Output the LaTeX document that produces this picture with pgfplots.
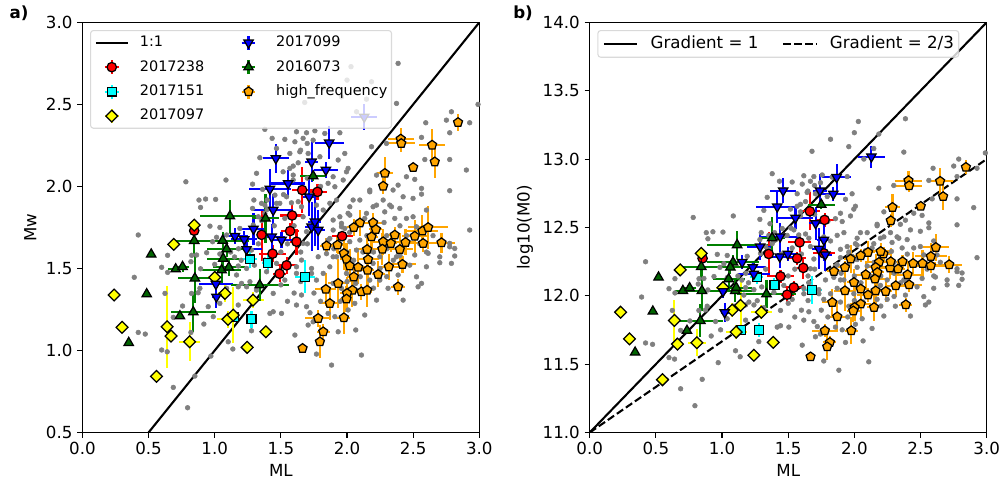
\documentclass[border=0pt]{standalone}
\usepackage{fontspec}
\setmainfont{DejaVu Sans}
\usepackage{pgfplots}
\pgfplotsset{compat=1.18}
\usepackage{pgfplotstable}

\definecolor{gr}{HTML}{808080}
\definecolor{dkgreen}{HTML}{006400}
\definecolor{egreen}{HTML}{008000}
\definecolor{orng}{HTML}{FFA500}
\definecolor{cRed}{HTML}{FF0000}
\definecolor{cCyan}{HTML}{00FFFF}
\definecolor{cYellow}{HTML}{FFFF00}
\definecolor{cBlue}{HTML}{0000FF}

\newcommand\tickfont{\fontsize{12pt}{14.4pt}\selectfont}
\newcommand\legfont{\fontsize{10.4pt}{12.5pt}\selectfont}
\newcommand\legbfont{\fontsize{12pt}{14.4pt}\selectfont}

% ---------------- catalogue events (ML, Mw) ----------------
\pgfplotstableread{
ml mw
1.379 2.348
1.434 2.293
1.341 2.175
2.386 2.750
2.374 2.506
2.990 2.500
2.030 2.730
2.000 2.648
2.185 2.638
1.820 2.600
1.958 2.546
2.147 2.532
1.680 2.512
2.072 2.455
2.789 2.455
2.751 2.404
2.595 2.388
2.927 2.388
2.776 2.327
1.618 2.333
1.694 2.327
1.757 2.339
1.832 2.323
1.668 2.293
1.946 2.327
1.606 2.272
1.744 2.282
1.530 2.287
2.563 2.299
2.298 2.262
2.185 2.242
1.649 2.221
1.706 2.201
1.568 2.201
1.467 2.232
1.983 2.201
1.933 2.161
1.795 2.181
2.776 2.164
2.588 2.164
2.902 2.100
1.631 2.144
1.568 2.110
2.008 2.110
1.996 2.089
1.517 2.089
1.593 2.069
1.895 2.059
1.971 2.039
2.449 2.059
2.386 2.008
2.512 2.043
2.223 2.069
2.172 1.978
2.563 1.988
2.776 1.974
2.424 1.937
2.499 1.927
1.908 1.998
1.857 2.019
2.097 1.917
2.273 1.917
2.021 1.876
2.197 1.876
2.336 1.876
1.921 1.917
2.927 1.734
2.600 1.856
2.021 1.825
2.285 1.845
2.361 1.805
2.449 1.805
2.134 1.805
2.084 1.785
1.946 1.815
1.870 1.897
1.820 1.856
1.983 1.744
2.525 1.754
2.625 1.754
2.776 1.653
2.814 1.622
2.701 1.571
2.789 1.531
2.512 1.582
1.857 1.673
1.782 1.571
1.895 1.571
1.870 1.510
2.701 1.535
1.455 1.947
1.467 1.897
1.593 2.039
1.631 1.907
1.656 1.876
1.769 1.886
1.668 1.815
1.530 1.805
1.694 1.724
1.895 1.795
1.895 1.734
1.958 1.754
1.668 1.653
1.845 1.590
1.618 1.510
1.732 1.470
2.814 1.576
2.776 1.632
2.563 1.409
2.537 1.388
2.424 1.307
2.310 1.379
2.525 1.449
2.600 1.510
2.613 1.592
2.474 1.520
2.386 1.460
2.248 1.429
2.172 1.429
2.066 1.409
1.958 1.379
1.895 1.409
1.769 1.429
1.820 1.470
1.921 1.571
1.732 1.500
1.656 1.551
1.618 1.470
1.530 1.429
1.656 1.338
1.618 1.277
1.694 1.267
1.744 1.175
1.706 1.155
1.857 1.226
1.908 1.206
1.933 1.114
2.066 1.125
2.134 1.216
2.223 1.307
2.008 1.247
2.059 1.287
1.606 1.094
1.505 1.226
1.442 1.236
2.109 0.972
1.769 0.978
1.883 0.911
2.172 1.967
2.348 1.978
2.563 1.953
2.046 1.917
2.008 1.836
2.223 1.886
2.323 1.886
2.399 1.866
2.499 1.815
2.147 1.836
1.958 1.775
1.870 1.683
2.021 1.663
2.097 1.673
2.072 1.612
2.248 1.571
2.197 1.531
2.374 1.571
1.996 1.470
1.316 2.080
1.286 2.014
1.362 1.982
1.085 2.039
0.782 2.028
0.881 1.917
0.931 1.923
1.007 1.921
0.893 1.872
0.422 1.704
0.644 1.580
0.826 1.580
0.863 1.582
0.939 1.596
0.599 1.507
0.644 1.476
0.820 1.541
0.893 1.498
0.392 1.446
0.964 1.758
1.039 1.750
0.984 1.663
1.014 1.690
0.624 1.348
1.178 1.515
1.241 1.500
1.165 1.460
1.203 1.409
1.178 1.388
1.266 1.419
1.241 1.388
1.392 1.480
1.467 1.531
1.354 1.897
1.379 1.836
1.190 1.744
1.291 1.765
1.354 1.791
1.090 1.704
1.000 1.525
1.039 1.588
1.278 1.612
1.379 1.551
1.442 1.348
1.316 1.368
1.090 1.379
0.888 1.379
0.825 1.348
0.757 1.271
0.951 1.267
0.875 1.352
1.039 1.287
0.989 1.206
0.918 1.161
0.820 1.110
0.687 1.202
0.422 1.110
0.475 1.100
0.599 1.003
0.641 0.992
1.102 1.053
1.137 1.009
0.971 0.966
0.850 0.844
0.687 0.775
0.795 0.651
1.278 1.120
1.417 1.226
1.178 1.277
1.500 1.600
1.550 1.650
1.600 1.760
1.650 1.600
1.700 1.650
1.450 1.760
2.300 1.700
2.400 1.760
2.200 1.600
2.000 1.600
2.350 1.550
1.520 1.950
1.580 1.900
1.700 2.050
1.800 2.000
1.643 2.211
1.699 2.262
1.593 2.124
1.397 1.917
1.379 1.886
1.397 1.860
1.492 1.897
1.543 1.937
1.286 1.866
1.329 1.815
1.296 1.917
2.050 1.550
2.120 1.600
2.250 1.500
2.300 1.620
2.450 1.700
2.550 1.650
2.200 1.750
2.150 1.700
2.020 1.720
1.950 1.680
1.900 1.620
2.280 1.780
2.400 1.580
2.600 1.600
2.650 1.700
2.100 1.450
2.200 1.380
2.000 1.420
1.950 1.300
2.300 1.450
1.550 1.300
1.600 1.350
1.750 1.350
1.800 1.300
1.650 1.420
1.720 1.230
1.500 1.400
1.120 1.600
1.180 1.620
1.200 1.550
1.300 1.520
1.330 1.650
1.150 1.570
}\greyev

% ---------------- panel a: (ML, Mw) with errors ----------------
\pgfplotstableread{
ml mw ex ey
0.845 1.730 0    0
1.354 1.705 0.03 0.16
1.437 1.590 0.10 0.05
1.490 1.468 0.05 0.05
1.543 1.519 0.08 0.05
1.570 1.728 0.07 0.05
1.585 1.823 0.09 0.07
1.618 1.663 0.05 0.08
1.661 1.978 0.08 0.14
1.777 1.967 0.07 0.05
1.963 1.697 0.08 0.03
}\redA
\pgfplotstableread{
ml mw ex ey
1.146 1.205 0.03 0.03
1.266 1.555 0.05 0.05
1.400 1.535 0.04 0.05
1.278 1.190 0.03 0.05
1.681 1.449 0.075 0.10
}\cyanA
\pgfplotstableread{
ml mw ex ey
0.240 1.338 0    0
0.300 1.141 0    0
0.560 0.842 0    0
0.640 1.145 0    0.25
0.670 1.088 0    0
0.810 1.053 0.08 0.12
1.077 1.348 0.05 0.05
1.100 1.190 0.08 0.05
1.140 1.216 0    0.17
1.290 1.307 0.08 0.05
1.245 1.019 0    0
1.387 1.114 0    0
0.845 1.764 0    0
0.690 1.647 0    0
1.000 1.446 0.05 0.05
}\yellowA
\pgfplotstableread{
ml mw ex ey
1.009 1.405 0.13 0.05
1.013 1.327 0.03 0.07
1.153 1.697 0.10 0.05
1.223 1.677 0.10 0.05
1.240 1.616 0.12 0.05
1.293 1.741 0.10 0.10
1.417 1.984 0.16 0.12
1.430 1.693 0.10 0.08
1.442 1.856 0.15 0.10
1.462 2.171 0.10 0.09
1.505 1.673 0.08 0.05
1.555 2.018 0.13 0.08
1.714 1.937 0.05 0.12
1.732 2.150 0.05 0.12
1.732 1.754 0.05 0.15
1.757 1.785 0.05 0.15
1.782 1.734 0.05 0.12
1.840 2.100 0.09 0.05
1.865 2.266 0.11 0.10
2.130 2.424 0.10 0.08
}\blueA
\pgfplotstableread{
ml mw ex ey
0.350 1.047 0    0
0.486 1.344 0    0
0.520 1.586 0    0
0.737 1.210 0    0
0.705 1.496 0.06 0
0.757 1.510 0.05 0.03
0.845 1.669 0.15 0.08
0.838 1.234 0.17 0.12
0.850 1.440 0.13 0.15
1.060 1.670 0.20 0.05
1.090 1.618 0.15 0.05
1.064 1.560 0.12 0.08
1.052 1.490 0.15 0.08
1.107 1.507 0.12 0.05
1.115 1.819 0.23 0.10
1.340 1.399 0.22 0.10
1.384 1.805 0.10 0.15
1.744 2.063 0.10 0.03
}\greenA
\pgfplotstableread{
ml mw ex ey
2.839 2.390 0    0.05
2.406 2.289 0.10 0.07
2.410 2.262 0.10 0.05
2.643 2.252 0.10 0.10
2.663 2.150 0.03 0.10
2.500 2.116 0    0
2.286 2.080 0.06 0.10
2.273 2.002 0.03 0.05
2.097 1.778 0.05 0.08
2.051 1.750 0.05 0.05
2.197 1.779 0.08 0.06
2.218 1.738 0.05 0.05
2.185 1.693 0.05 0.10
2.273 1.663 0.08 0.08
2.331 1.653 0.05 0.05
2.361 1.704 0.05 0.05
2.442 1.659 0.08 0.08
2.512 1.697 0.10 0.10
2.570 1.728 0.12 0.10
2.613 1.750 0.15 0.13
2.575 1.653 0.15 0.05
2.714 1.657 0.10 0.06
1.845 1.638 0.05 0.05
1.928 1.643 0.05 0.05
2.152 1.616 0.10 0.10
2.267 1.618 0.10 0.10
2.399 1.616 0.10 0.10
1.976 1.592 0.05 0.10
1.996 1.557 0.05 0.10
2.159 1.555 0.08 0.10
2.021 1.516 0.05 0.10
2.084 1.507 0.10 0.10
2.155 1.490 0.05 0.10
2.316 1.510 0.08 0.08
2.419 1.525 0.10 0.05
2.235 1.464 0.05 0.08
2.051 1.449 0.05 0.05
1.933 1.409 0.08 0.15
1.840 1.373 0.08 0.10
2.041 1.368 0.08 0.10
2.000 1.348 0.05 0.10
2.109 1.358 0.08 0.05
2.152 1.368 0.05 0.10
1.996 1.314 0.05 0.08
1.870 1.287 0.08 0.10
2.386 1.388 0.05 0.05
1.782 1.196 0.10 0.05
1.976 1.200 0.05 0.10
1.820 1.114 0.05 0.05
1.795 1.053 0.03 0.10
1.664 1.013 0    0
}\orangeA

% ---------------- panel b: (ML, log10 M0) with errors ----------------
\pgfplotstableread{
ml lm ex ey
0.853 12.274 0    0
1.353 12.306 0.03 0.16
1.442 12.142 0.10 0.05
1.492 12.008 0.05 0.05
1.542 12.061 0.08 0.05
1.568 12.274 0.07 0.05
1.586 12.391 0.09 0.07
1.614 12.204 0.05 0.08
1.664 12.618 0.08 0.14
1.775 12.555 0.07 0.05
1.770 12.310 0.08 0.03
}\redB
\pgfplotstableread{
ml lm ex ey
1.146 11.750 0.03 0.03
1.262 12.135 0.05 0.05
1.396 12.081 0.04 0.05
1.277 11.750 0.03 0.05
1.682 12.042 0.075 0.10
}\cyanB
\pgfplotstableread{
ml lm ex ey
0.233 11.880 0    0
0.300 11.685 0    0
0.550 11.386 0    0
0.640 11.820 0    0.15
0.663 11.647 0    0
0.810 11.657 0.07 0.10
1.077 11.895 0.05 0.05
1.107 11.735 0.08 0.05
1.140 11.930 0    0.19
1.297 11.880 0.08 0.05
1.240 11.565 0    0
1.387 11.660 0    0
0.843 12.310 0    0
0.684 12.189 0    0
1.007 12.060 0.05 0.05
}\yellowB
\pgfplotstableread{
ml lm ex ey
1.007 12.032 0.13 0.05
1.020 11.878 0.03 0.07
1.152 12.245 0.10 0.05
1.232 12.208 0.10 0.05
1.240 12.160 0.12 0.05
1.288 12.359 0.10 0.10
1.417 12.652 0.16 0.12
1.436 12.286 0.10 0.08
1.439 12.433 0.15 0.10
1.462 12.769 0.10 0.09
1.497 12.306 0.08 0.05
1.555 12.570 0.13 0.08
1.707 12.530 0.05 0.12
1.740 12.769 0.05 0.12
1.732 12.343 0.05 0.15
1.770 12.408 0.05 0.15
1.780 12.300 0.05 0.12
1.841 12.745 0.09 0.05
1.866 12.867 0.11 0.10
2.129 13.018 0.10 0.08
}\blueB
\pgfplotstableread{
ml lm ex ey
0.343 11.586 0    0
0.477 11.886 0    0
0.520 12.135 0    0
0.735 11.745 0    0
0.704 12.037 0.06 0
0.755 12.057 0.05 0.03
0.843 12.213 0.15 0.08
0.836 11.818 0.17 0.12
0.848 12.037 0.13 0.15
1.083 12.245 0.20 0.05
1.063 12.208 0.15 0.05
1.050 12.123 0.12 0.08
1.100 12.037 0.15 0.08
1.107 12.060 0.12 0.05
1.114 12.372 0.23 0.10
1.336 12.013 0.22 0.10
1.379 12.423 0.10 0.15
1.750 12.667 0.10 0.03
}\greenB
\pgfplotstableread{
ml lm ex ey
2.843 12.940 0    0.05
2.409 12.843 0.10 0.07
2.414 12.806 0.10 0.05
2.648 12.838 0.10 0.10
2.671 12.726 0.03 0.10
2.502 12.655 0    0
2.288 12.647 0.06 0.10
2.275 12.550 0.03 0.05
2.616 12.354 0.10 0.10
2.578 12.288 0.12 0.10
2.717 12.228 0.10 0.06
2.578 12.220 0.15 0.05
2.515 12.237 0.10 0.10
2.444 12.237 0.08 0.08
2.364 12.250 0.05 0.05
2.402 12.155 0.10 0.10
2.330 12.196 0.05 0.05
2.270 12.203 0.08 0.08
2.275 12.250 0.05 0.10
2.220 12.306 0.05 0.05
2.199 12.325 0.08 0.06
2.103 12.318 0.05 0.08
2.048 12.294 0.05 0.05
1.972 12.269 0.05 0.10
1.929 12.208 0.05 0.05
1.846 12.179 0.05 0.05
2.186 12.245 0.10 0.10
2.161 12.208 0.08 0.10
2.174 12.171 0.05 0.10
2.156 12.123 0.10 0.10
2.086 12.155 0.10 0.10
2.414 12.081 0.10 0.05
2.313 12.074 0.08 0.08
2.237 12.032 0.05 0.08
2.161 12.037 0.05 0.10
2.103 12.006 0.08 0.05
2.048 12.050 0.05 0.05
1.997 12.098 0.05 0.10
1.929 12.037 0.08 0.15
2.389 11.935 0.05 0.05
2.149 11.915 0.05 0.10
2.048 11.940 0.08 0.10
2.002 11.915 0.05 0.10
1.992 11.890 0.05 0.08
1.833 11.952 0.08 0.10
1.871 11.847 0.08 0.10
1.977 11.745 0.05 0.10
1.777 11.745 0.10 0.05
1.815 11.659 0.05 0.05
1.795 11.627 0.03 0.10
1.669 11.554 0    0
}\orangeB

\pgfplotsset{
  panel/.style={
    scale only axis, width=285.8pt, height=295.3pt,
    xmin=0, xmax=3, xtick={0,0.5,1,1.5,2,2.5,3},
    tick align=outside, tick pos=left, major tick length=3.6pt,
    tick style={black, line width=0.8pt},
    axis line style={black, line width=0.8pt},
    /pgf/number format/assume math mode=true,
    xticklabel style={font=\tickfont, /pgf/number format/fixed, /pgf/number format/fixed zerofill, /pgf/number format/precision=1},
    yticklabel style={font=\tickfont, /pgf/number format/fixed, /pgf/number format/fixed zerofill, /pgf/number format/precision=1},
    label style={font=\tickfont},
    xlabel={ML},
    legend cell align=left,
  },
  legA/.style={legend columns=2,
    legend style={at={(axis description cs:0,1)}, anchor=north west, xshift=5.5pt, yshift=-5.5pt,
      draw=black!18, line width=0.8pt, rounded corners=2pt, fill=white, fill opacity=0.8,
      draw opacity=0.8, text opacity=1, font=\legfont, inner xsep=3pt, inner ysep=3pt,
      nodes={inner sep=0pt, text height=7.6pt, text depth=2pt}, row sep=6.1pt,
      /tikz/every odd column/.append style={column sep=8pt},
      /tikz/every even column/.append style={column sep=20pt}}},
  legB/.style={legend columns=2,
    legend style={at={(axis description cs:0,1)}, anchor=north west, xshift=5.5pt, yshift=-5.5pt,
      draw=black!18, line width=0.8pt, rounded corners=2pt, fill=white, fill opacity=0.8,
      draw opacity=0.8, text opacity=1, font=\legbfont, inner xsep=3.5pt, inner ysep=4pt,
      nodes={inner sep=0pt, text height=8.8pt, text depth=2.4pt},
      /tikz/every odd column/.append style={column sep=9pt},
      /tikz/every even column/.append style={column sep=17pt}},
    legend image code/.code={\draw[##1, draw opacity=1] (0pt,0pt) -- (24pt,0pt);}},
  greypts/.style={only marks, forget plot, mark=*, mark size=1.7pt, gr,
    mark options={fill=gr, draw=none}},
  sA/.style={only marks, forget plot, mark=*, mark size=3.4pt,
    mark options={fill=cRed, draw=black, line width=0.9pt}},
  sB/.style={only marks, forget plot, mark=square*, mark size=3.2pt,
    mark options={fill=cCyan, draw=black, line width=0.9pt}},
  sC/.style={only marks, forget plot, mark=square*, mark size=3.0pt,
    mark options={fill=cYellow, draw=black, line width=0.9pt, rotate=45}},
  sD/.style={only marks, forget plot, mark=triangle*, mark size=3.9pt,
    mark options={fill=cBlue, draw=black, line width=0.9pt, rotate=180}},
  sE/.style={only marks, forget plot, mark=triangle*, mark size=3.9pt,
    mark options={fill=dkgreen, draw=black, line width=0.9pt}},
  sF/.style={only marks, forget plot, mark=pentagon*, mark size=3.4pt,
    mark options={fill=orng, draw=black, line width=0.9pt}},
  ebar/.style={error bars/.cd, x dir=both, x explicit, y dir=both, y explicit,
    error mark=none, error bar style={line width=1.5pt, #1}},
}

% legend image: coloured error cross with the series marker on top
\newcommand{\errimg}[3]{%
  \addlegendimage{legend image code/.code={
    \path (0pt,0pt) (23pt,0pt);
    \draw[#1, line width=1.5pt, draw opacity=1] (11.5pt,-5pt) -- (11.5pt,5pt) (6.5pt,0pt) -- (16.5pt,0pt);
    \path plot[only marks, mark=#2, mark options={#3, fill opacity=1, draw opacity=1}] coordinates {(11.5pt,0pt)};}}}

\begin{document}
\begin{tikzpicture}
\useasboundingbox (0,0) rectangle (720pt,-351.36pt);

% ---------------- panel a ----------------
\begin{axis}[panel, legA, at={(59.33pt,-311.4pt)}, anchor=south west,
  ymin=0.5, ymax=3, ytick={0.5,1,1.5,2,2.5,3}, ylabel={Mw}]
\addplot[greypts] table[x=ml, y=mw] {\greyev};
\addplot[black, line width=1.5pt, forget plot] coordinates {(0.5,0.5) (3,3)};
\addplot[sA, ebar=cRed] table[x=ml, y=mw, x error=ex, y error=ey] {\redA};
\addplot[sB, ebar=cCyan] table[x=ml, y=mw, x error=ex, y error=ey] {\cyanA};
\addplot[sC, ebar=cYellow] table[x=ml, y=mw, x error=ex, y error=ey] {\yellowA};
\addplot[sD, ebar=cBlue] table[x=ml, y=mw, x error=ex, y error=ey] {\blueA};
\addplot[sE, ebar=egreen] table[x=ml, y=mw, x error=ex, y error=ey] {\greenA};
\addplot[sF, ebar=orng] table[x=ml, y=mw, x error=ex, y error=ey] {\orangeA};

\addlegendimage{legend image code/.code={\draw[black, line width=1.5pt, draw opacity=1] (0pt,0pt) -- (23pt,0pt);}}
\addlegendentry{1:1}
\errimg{cBlue}{triangle*}{fill=cBlue, draw=black, line width=0.9pt, mark size=3.9pt, rotate=180}
\addlegendentry{2017099}
\errimg{cRed}{*}{fill=cRed, draw=black, line width=0.9pt, mark size=3.4pt}
\addlegendentry{2017238}
\errimg{egreen}{triangle*}{fill=dkgreen, draw=black, line width=0.9pt, mark size=3.9pt}
\addlegendentry{2016073}
\errimg{cCyan}{square*}{fill=cCyan, draw=black, line width=0.9pt, mark size=3.2pt}
\addlegendentry{2017151}
\errimg{orng}{pentagon*}{fill=orng, draw=black, line width=0.9pt, mark size=3.4pt}
\addlegendentry{high\_frequency}
\errimg{cYellow}{square*}{fill=cYellow, draw=black, line width=0.9pt, mark size=3.0pt, rotate=45}
\addlegendentry{2017097}
\end{axis}

% ---------------- panel b ----------------
\begin{axis}[panel, legB, at={(424.6pt,-311.4pt)}, anchor=south west,
  ymin=11, ymax=14, ytick={11,11.5,12,12.5,13,13.5,14}, ylabel={log10(M0)}]
\addplot[greypts] table[x=ml, y expr=\thisrow{mw}+10.545] {\greyev};
\addplot[black, line width=1.5pt] coordinates {(0,11) (3,14)};
\addlegendentry{Gradient = 1}
\addplot[black, line width=1.5pt, dash pattern=on 5.5pt off 2.4pt] coordinates {(0,11) (3,13)};
\addlegendentry{Gradient = 2/3}
\addplot[sA, ebar=cRed] table[x=ml, y=lm, x error=ex, y error=ey] {\redB};
\addplot[sB, ebar=cCyan] table[x=ml, y=lm, x error=ex, y error=ey] {\cyanB};
\addplot[sC, ebar=cYellow] table[x=ml, y=lm, x error=ex, y error=ey] {\yellowB};
\addplot[sD, ebar=cBlue] table[x=ml, y=lm, x error=ex, y error=ey] {\blueB};
\addplot[sE, ebar=egreen] table[x=ml, y=lm, x error=ex, y error=ey] {\greenB};
\addplot[sF, ebar=orng] table[x=ml, y=lm, x error=ex, y error=ey] {\orangeB};
\end{axis}

\node[font=\bfseries\tickfont] at (13.7pt,-9.6pt) {a)};
\node[font=\bfseries\tickfont] at (376.6pt,-9.6pt) {b)};
\end{tikzpicture}
\end{document}
